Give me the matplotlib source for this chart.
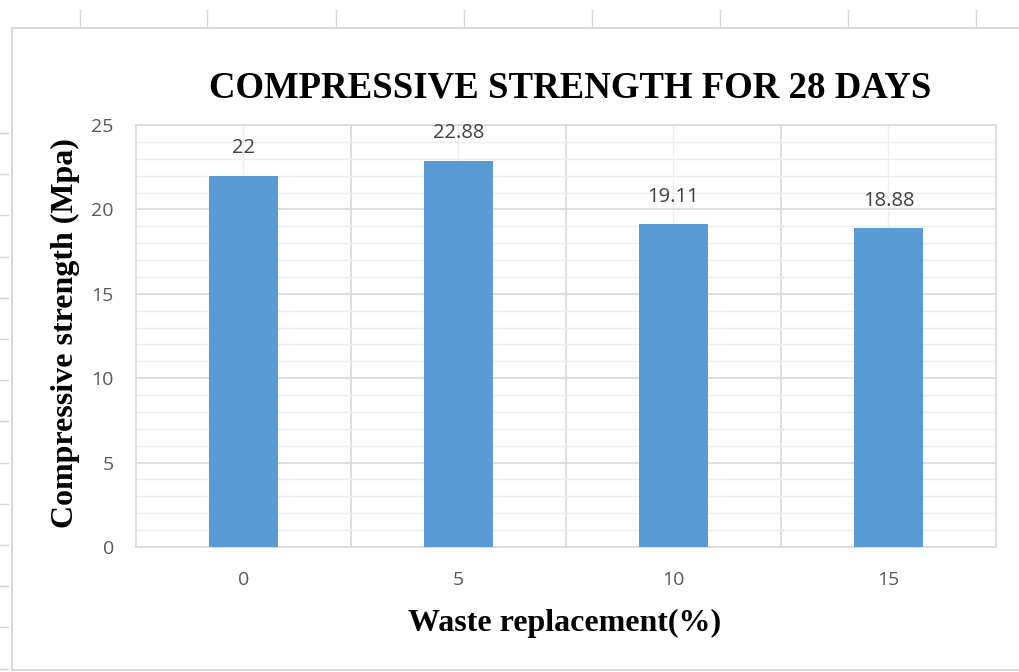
import matplotlib
matplotlib.use('Agg')
import matplotlib.pyplot as plt
from matplotlib.lines import Line2D
from matplotlib.patches import Rectangle
import numpy as np

# compressive strength after 28 days, per waste replacement level
replacement = ['0', '5', '10', '15']
strength = [22, 22.88, 19.11, 18.88]
strength_labels = ['22', '22.88', '19.11', '18.88']
yticks = [0, 5, 10, 15, 20, 25]

W, H = 1020, 672
fig = plt.figure(figsize=(W / 100, H / 100), dpi=100)
fig.patch.set_facecolor('white')

# sheet cell lines around the chart object
for x in [80, 207, 336, 464, 592, 720, 848, 976]:
    fig.add_artist(Line2D([x / W, x / W], [1 - 10 / H, 1 - 28 / H], transform=fig.transFigure,
                          color='#d4d4d4', linewidth=1, zorder=-10))
for y in np.arange(133, 672, 41.2):
    fig.add_artist(Line2D([0, 8 / W], [1 - y / H, 1 - y / H], transform=fig.transFigure,
                          color='#d4d4d4', linewidth=1, zorder=-10))
fig.add_artist(Rectangle((12 / W, 1 - 670 / H), (W + 10) / W, (670 - 28) / H, transform=fig.transFigure,
                         facecolor='white', edgecolor='#d9d9d9', linewidth=1.5, zorder=-5))

ax = fig.add_axes([136 / W, 1 - 547 / H, (996 - 136) / W, (547 - 125) / H])
ax.patch.set_alpha(0)
x = np.arange(len(replacement))
bars = ax.bar(x, strength, width=0.325, color='#5b9bd5', zorder=3)

ax.set_xlim(-0.5, len(replacement) - 0.5)
ax.set_ylim(0, 25)
ax.set_yticks(yticks)
ax.set_yticks(np.arange(0, 26, 1), minor=True)
ax.set_xticks(x)
ax.set_xticklabels(replacement)

ax.grid(True, which='minor', axis='y', color='#eeeeee', linewidth=1.0, zorder=0)
ax.grid(True, which='major', axis='y', color='#d9d9d9', linewidth=1.2, zorder=1)
# category boundaries carry the darker line, centres the faint one
for c in x:
    ax.axvline(c, color='#eeeeee', linewidth=1.0, zorder=0)
for b in np.arange(0.5, len(replacement) - 1, 1):
    ax.axvline(b, color='#d9d9d9', linewidth=1.2, zorder=1)

for s in ax.spines.values():
    s.set_color('#d9d9d9')
    s.set_linewidth(1.2)
ax.tick_params(which='both', length=0)
ax.tick_params(axis='both', labelsize=14, labelcolor='#595959')
ax.tick_params(axis='x', pad=17)
ax.tick_params(axis='y', pad=16)
for lab in ax.get_xticklabels() + ax.get_yticklabels():
    lab.set_fontfamily('Open Sans')

for bar, txt in zip(bars, strength_labels):
    ax.annotate(txt, (bar.get_x() + bar.get_width() / 2, bar.get_height()),
                xytext=(0, 20), textcoords='offset points', ha='center', va='center',
                fontsize=14.5, color='#404040', family='Open Sans')

fig.text(570 / W, 1 - 88 / H, 'COMPRESSIVE STRENGTH FOR 28 DAYS', ha='center', va='center',
         fontsize=26.5, fontweight='bold', family='Liberation Serif')
fig.text(65 / W, 1 - 333 / H, 'Compressive strength (Mpa)', ha='center', va='center', rotation=90,
         fontsize=23, fontweight='bold', family='Liberation Serif')
fig.text(565 / W, 1 - 623 / H, 'Waste replacement(%)', ha='center', va='center',
         fontsize=23, fontweight='bold', family='Liberation Serif')

fig.savefig('out.png', dpi=100)
